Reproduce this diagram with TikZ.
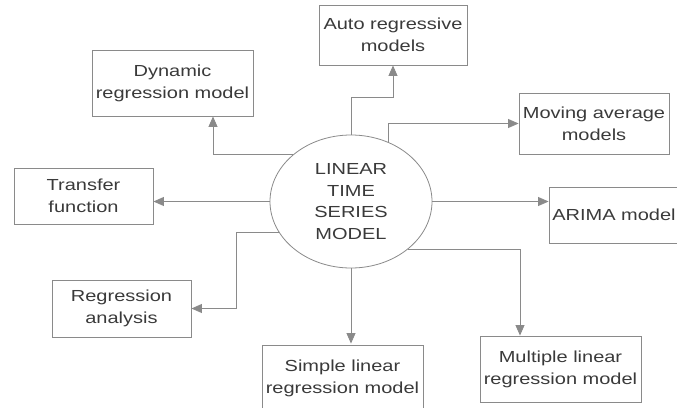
\documentclass[tikz,border=0pt]{standalone}
\usepackage{fontspec}
\setmainfont{Liberation Sans}[FakeStretch=1.25]
\usetikzlibrary{arrows.meta,shapes.geometric}
\definecolor{linegray}{HTML}{8A8A8A}
\definecolor{txtgray}{HTML}{3A3A3A}
\tikzset{
  box/.style={draw=linegray, line width=0.9pt, rectangle, inner sep=0pt, align=center,
    text=txtgray, font=\fontsize{16}{22}\selectfont},
  hub/.style={draw=linegray, line width=0.8pt, ellipse, inner sep=0pt, align=center,
    minimum width=162pt, minimum height=133pt, text=txtgray, font=\fontsize{16}{21.5}\selectfont},
  arr/.style={draw=linegray, line width=0.9pt, -{Triangle[length=10.5pt,width=9pt]}}
}
\begin{document}
\begin{tikzpicture}[x=1pt,y=-1pt]
\useasboundingbox (0,0) rectangle (677,407);
\node[hub] (c) at (351,201.5) {LINEAR\\TIME\\SERIES\\MODEL};
\node[box, minimum width=161pt, minimum height=66pt] (dyn) at (172.5,83) {Dynamic\\regression model};
\node[box, minimum width=148pt, minimum height=60pt] (auto) at (393,35) {Auto regressive\\models};
\node[box, minimum width=150pt, minimum height=61pt] (mov) at (594,123.5) {Moving average\\models};
\node[box, minimum width=130pt, minimum height=56pt] (arima) at (614,215) {ARIMA model};
\node[box, minimum width=139pt, minimum height=56pt] (tf) at (83.5,196) {Transfer\\function};
\node[box, minimum width=139pt, minimum height=57pt] (reg) at (121.5,308.5) {Regression\\analysis};
\node[box, minimum width=161pt, minimum height=66pt] (simple) at (342.5,378) {Simple linear\\regression model};
\node[box, minimum width=161pt, minimum height=66pt] (mult) at (560.5,369) {Multiple linear\\regression model};

\draw[arr] (c.141.3) -| ([xshift=40.5pt]dyn.south);
\draw[arr] (c.north) -- ++(0,-37) -| (auto.south);
\draw[arr] (c.58.9) |- (mov.west);
\draw[arr] (c.east) -- (c.east -| arima.west);
\draw[arr] (c.west) -- (c.west -| tf.east);
\draw[arr] (c.203) -- ++(-42,0) |- (reg.east);
\draw[arr] (c.south) -- ([yshift=1pt]c.south |- simple.north);
\draw[arr] (c.320.7) -| ([xshift=-40.5pt]mult.north);
\end{tikzpicture}
\end{document}
